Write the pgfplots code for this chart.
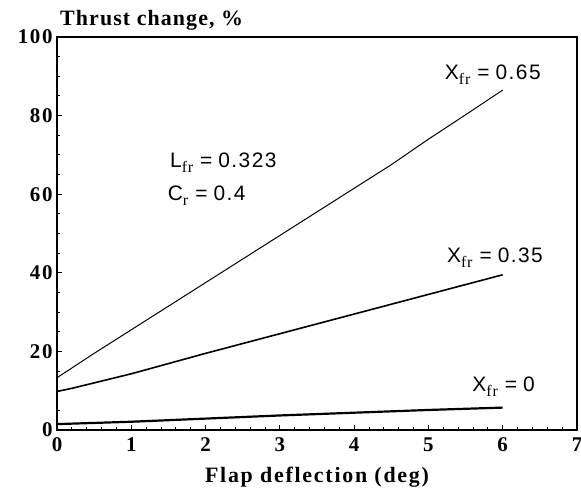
\documentclass[border=0pt]{standalone}
\usepackage{fontspec}
\setmainfont{Liberation Serif}
\newfontfamily\annfont[LetterSpace=7]{Liberation Sans}
\newfontfamily\subfont[LetterSpace=5]{Liberation Serif}
\newfontfamily\widebf[LetterSpace=8]{Liberation Serif}
\newfontfamily\titlebf[LetterSpace=5]{Liberation Serif}
\usepackage{pgfplots}
\pgfplotsset{compat=1.18}

\newcommand{\ann}[3]{{\annfont\fontsize{21}{23}\selectfont #1\raisebox{-5bp}{\subfont\fontsize{16}{18}\selectfont #2}\hspace{7bp}=\hspace{6bp}#3}}

\begin{document}
\begin{tikzpicture}
\useasboundingbox (0,0) rectangle (581bp,489bp);
\begin{axis}[
    at={(57bp,59bp)}, anchor=south west,
    scale only axis, width=520bp, height=393bp,
    xmin=0, xmax=7, ymin=0, ymax=100,
    xtick={0,...,7}, ytick={0,20,...,100},
    minor x tick num=4, minor y tick num=3,
    xtick pos=bottom, ytick pos=left,
    tick align=inside,
    major tick length=5bp, minor tick length=3bp,
    axis line style={line width=1.8bp},
    every tick/.style={line width=1bp, black},
    /pgf/number format/assume math mode=true,
    tick label style={font=\widebf\fontsize{21}{24}\selectfont\bfseries},
    yticklabel style={xshift=-1bp},
    xticklabel style={yshift=-4bp},
    xlabel={Flap deflection (deg)},
    xlabel style={font=\widebf\fontsize{22}{24}\selectfont\bfseries,
        at={(axis description cs:0.5,0)}, anchor=base, yshift=-52bp},
    clip=false,
    ]
\addplot[line width=1bp, black] coordinates {
    (0,13.3) (0.5,19.5) (1,25.5) (1.5,31.5) (2,37.5) (2.5,43.5) (3,49.5) (3.5,55.5) (4,61.5) (4.5,67.5) (5,74) (5.5,80.2) (6,86.5) };
\addplot[line width=1.6bp, black] coordinates {
    (0,9.8) (0.2,10.6) (1,14.3) (2,19.5) (3,24.5) (4,29.5) (5,34.5) (6,39.5) };
\addplot[line width=2.2bp, black] coordinates {
    (0,1.5) (1,2.1) (2,2.9) (3,3.7) (4,4.4) (5,5.1) (6,5.7) };

\node[anchor=base west, inner sep=0pt] at (axis cs:5.22,89.3) {\ann{X}{fr}{0.65}};
\node[anchor=base west, inner sep=0pt] at (axis cs:5.25,42.7) {\ann{X}{fr}{0.35}};
\node[anchor=base west, inner sep=0pt] at (axis cs:5.59,9.7) {\ann{X}{fr}{0}};
\node[anchor=base west, inner sep=0pt] at (axis cs:1.52,66.7) {\ann{L}{fr}{0.323}};
\node[anchor=base west, inner sep=0pt] at (axis cs:1.49,58.5) {\ann{C}{r}{0.4}};
\node[anchor=base west, inner sep=0pt, font=\titlebf\fontsize{22}{24}\selectfont\bfseries]
    at ([xshift=3bp,yshift=11bp]rel axis cs:0,1) {Thrust change, \%};
\end{axis}
\end{tikzpicture}
\end{document}
